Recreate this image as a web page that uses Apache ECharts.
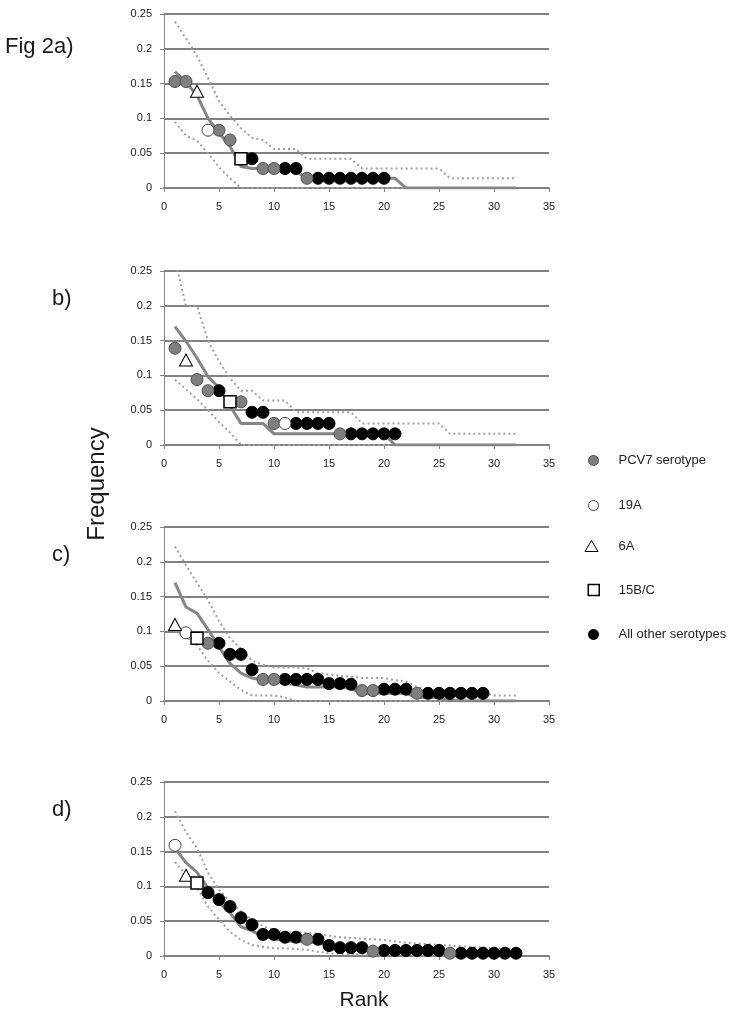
<!DOCTYPE html>
<html><head><meta charset="utf-8">
<script src="https://cdn.jsdelivr.net/npm/echarts@6/dist/echarts.min.js"></script>
<style>html,body{margin:0;padding:0;background:#fff}#c{width:742px;height:1020px}</style>
</head><body><div id="c"></div>
<script>
// ---- data ----
const ranks = [1,2,3,4,5,6,7,8,9,10,11,12,13,14,15,16,17,18,19,20,21,22,23,24,25,26,27,28,29,30,31,32];
const panelLabels = ['Fig 2a)', 'b)', 'c)', 'd)'];
const seriesNames = ['PCV7 serotype', '19A', '6A', '15B/C', 'All other serotypes'];

// Panel a
const aMean  = [0.167,0.152,0.133,0.100,0.079,0.060,0.031,0.028,0.028,0.028,0.028,0.024,0.014,0.014,0.014,0.014,0.014,0.014,0.014,0.014,0.014,0,0,0,0,0,0,0,0,0,0,0];
const aUpper = [0.239,0.215,0.190,0.158,0.125,0.104,0.086,0.072,0.069,0.056,0.056,0.056,0.042,0.042,0.042,0.042,0.042,0.028,0.028,0.028,0.028,0.028,0.028,0.028,0.028,0.014,0.014,0.014,0.014,0.014,0.014,0.014];
const aLower = [0.095,0.075,0.068,0.050,0.030,0.014,0,0,0,0,0,0,0,0,0,0,0,0,0,0,0,0,0,0,0,0,0,0,0,0,0,0];
const aPcv7  = [[1,0.153],[2,0.153],[5,0.083],[6,0.069],[9,0.028],[10,0.028],[13,0.014]];
const a19A   = [[4,0.083]];
const a6A    = [[3,0.139]];
const a15BC  = [[7,0.042]];
const aOther = [[8,0.042],[11,0.028],[12,0.028],[14,0.014],[15,0.014],[16,0.014],[17,0.014],[18,0.014],[19,0.014],[20,0.014]];

// Panel b
const bMean  = [0.170,0.149,0.125,0.098,0.082,0.056,0.031,0.031,0.031,0.016,0.016,0.016,0.016,0.016,0.016,0.016,0.016,0.016,0.016,0.016,0,0,0,0,0,0,0,0,0,0,0,0];
const bUpper = [0.266,0.200,0.200,0.150,0.120,0.096,0.078,0.078,0.064,0.064,0.064,0.047,0.047,0.047,0.047,0.047,0.047,0.031,0.031,0.031,0.031,0.031,0.031,0.031,0.031,0.016,0.016,0.016,0.016,0.016,0.016,0.016];
const bLower = [0.094,0.080,0.066,0.050,0.033,0.018,0,0,0,0,0,0,0,0,0,0,0,0,0,0,0,0,0,0,0,0,0,0,0,0,0,0];
const bPcv7  = [[1,0.139],[3,0.094],[4,0.078],[7,0.062],[10,0.031],[16,0.016]];
const b19A   = [[11,0.031]];
const b6A    = [[2,0.122]];
const b15BC  = [[6,0.062]];
const bOther = [[5,0.078],[8,0.047],[9,0.047],[12,0.031],[13,0.031],[14,0.031],[15,0.031],[17,0.016],[18,0.016],[19,0.016],[20,0.016],[21,0.016]];

// Panel c
const cMean  = [0.170,0.135,0.126,0.103,0.078,0.054,0.040,0.033,0.030,0.029,0.026,0.023,0.020,0.020,0.020,0.020,0.018,0.011,0.011,0.011,0.011,0.011,0.005,0.005,0.005,0.001,0,0,0,0,0,0];
const cUpper = [0.222,0.195,0.170,0.145,0.115,0.090,0.075,0.058,0.052,0.048,0.048,0.048,0.047,0.040,0.038,0.036,0.035,0.033,0.033,0.033,0.030,0.028,0.020,0.017,0.016,0.016,0.015,0.014,0.012,0.008,0.008,0.008];
const cLower = [0.100,0.093,0.080,0.058,0.040,0.028,0.016,0.008,0.008,0.008,0.005,0,0,0,0,0,0,0,0,0,0,0,0,0,0,0,0,0,0,0,0,0];
const cPcv7  = [[4,0.083],[9,0.031],[10,0.031],[18,0.015],[19,0.015],[23,0.011]];
const c19A   = [[2,0.098]];
const c6A    = [[1,0.110]];
const c15BC  = [[3,0.090]];
const cOther = [[5,0.083],[6,0.067],[7,0.067],[8,0.045],[11,0.031],[12,0.031],[13,0.031],[14,0.031],[15,0.025],[16,0.025],[17,0.024],[20,0.017],[21,0.017],[22,0.017],[24,0.011],[25,0.011],[26,0.011],[27,0.011],[28,0.011],[29,0.011]];

// Panel d
const dMean  = [0.155,0.134,0.120,0.098,0.077,0.062,0.042,0.036,0.028,0.025,0.022,0.021,0.020,0.019,0.016,0.014,0.012,0.011,0.010,0.009,0.008,0.008,0.007,0.007,0.006,0.006,0.005,0.005,0.004,0.004,0.003,0.003];
const dUpper = [0.208,0.178,0.155,0.120,0.095,0.078,0.064,0.052,0.043,0.037,0.034,0.034,0.033,0.032,0.029,0.027,0.026,0.025,0.024,0.023,0.021,0.019,0.018,0.017,0.016,0.015,0.014,0.013,0.012,0.011,0.011,0.010];
const dLower = [0.135,0.117,0.098,0.071,0.052,0.035,0.023,0.016,0.013,0.011,0.011,0.010,0.009,0.006,0.004,0.003,0.003,0.002,0.002,0.002,0.001,0.001,0.001,0.001,0,0,0,0,0,0,0,0];
const dPcv7  = [[13,0.024],[19,0.007],[26,0.004]];
const d19A   = [[1,0.159]];
const d6A    = [[2,0.116]];
const d15BC  = [[3,0.105]];
const dOther = [[4,0.091],[5,0.081],[6,0.071],[7,0.055],[8,0.045],[9,0.031],[10,0.031],[11,0.027],[12,0.027],[14,0.024],[15,0.015],[16,0.012],[17,0.012],[18,0.012],[20,0.008],[21,0.008],[22,0.008],[23,0.008],[24,0.008],[25,0.008],[27,0.004],[28,0.004],[29,0.004],[30,0.004],[31,0.004],[32,0.004]];

const panels = [
  {mean:aMean, upper:aUpper, lower:aLower, pcv7:aPcv7, s19A:a19A, s6A:a6A, s15BC:a15BC, other:aOther},
  {mean:bMean, upper:bUpper, lower:bLower, pcv7:bPcv7, s19A:b19A, s6A:b6A, s15BC:b15BC, other:bOther},
  {mean:cMean, upper:cUpper, lower:cLower, pcv7:cPcv7, s19A:c19A, s6A:c6A, s15BC:c15BC, other:cOther},
  {mean:dMean, upper:dUpper, lower:dLower, pcv7:dPcv7, s19A:d19A, s6A:d6A, s15BC:d15BC, other:dOther}
];

// ---- layout / style ----
const FONT = 'Liberation Sans, Arial, sans-serif';
const gridTops = [14, 271, 527, 782];
const gridLeft = 164, gridW = 385, gridH = 174;
const axisGray = '#828282';
const styles = {
  pcv7:  {symbol:'circle', size:12, item:{color:'#7f7f7f', borderColor:'#505050', borderWidth:1, opacity:1}},
  s19A:  {symbol:'circle', size:12, item:{color:'#ffffff', borderColor:'#444', borderWidth:1, opacity:1}},
  s6A:   {symbol:'triangle', size:[13,12], item:{color:'#ffffff', borderColor:'#000', borderWidth:1, opacity:1}},
  s15BC: {symbol:'rect', size:12, item:{color:'#ffffff', borderColor:'#000', borderWidth:1.5, opacity:1}},
  other: {symbol:'circle', size:12, item:{color:'#000000', borderColor:'#000', borderWidth:1, opacity:1}}
};

const grid = [], xAxis = [], yAxis = [], series = [];
panels.forEach((p, i) => {
  grid.push({left:gridLeft, top:gridTops[i], width:gridW, height:gridH, containLabel:false});
  xAxis.push({
    type:'value', gridIndex:i, min:0, max:35, interval:5,
    axisLine:{show:true, onZero:false, lineStyle:{color:axisGray, width:2}},
    axisTick:{show:true, length:4, lineStyle:{color:axisGray, width:1}},
    axisLabel:{fontFamily:FONT, fontSize:11, color:'#1a1a1a', margin:13},
    splitLine:{show:false}
  });
  yAxis.push({
    type:'value', gridIndex:i, min:0, max:0.25, interval:0.05,
    axisLine:{show:true, lineStyle:{color:axisGray, width:1}},
    axisTick:{show:true, length:4, lineStyle:{color:axisGray, width:1}},
    axisLabel:{fontFamily:FONT, fontSize:11, color:'#1a1a1a', margin:12},
    splitLine:{show:true, lineStyle:{color:axisGray, width:2}}
  });
  const lineData = arr => ranks.map((r, k) => [r, arr[k]]);
  series.push({type:'line', xAxisIndex:i, yAxisIndex:i, data:lineData(p.upper), showSymbol:false, silent:true, clip:true,
    lineStyle:{color:'#a0a0a0', width:2, type:[2,3]}, z:2});
  series.push({type:'line', xAxisIndex:i, yAxisIndex:i, data:lineData(p.lower), showSymbol:false, silent:true, clip:true,
    lineStyle:{color:'#a0a0a0', width:2, type:[2,3]}, z:2});
  series.push({type:'line', xAxisIndex:i, yAxisIndex:i, data:lineData(p.mean), showSymbol:false, silent:true, clip:true,
    lineStyle:{color:'#858585', width:3}, z:2});
  [['other','All other serotypes'],['pcv7','PCV7 serotype'],['s19A','19A'],['s6A','6A'],['s15BC','15B/C']].forEach(([key, name]) => {
    const st = styles[key];
    series.push({type:'scatter', name, xAxisIndex:i, yAxisIndex:i, data:p[key], symbol:st.symbol, symbolSize:st.size,
      itemStyle:st.item, z:3});
  });
});

// legend entries, one component per item for exact placement
const legendSpec = [
  {key:'pcv7',  name:'PCV7 serotype',       cx:593, cy:459, w:10, h:10, icon:'circle'},
  {key:'s19A',  name:'19A',                 cx:593, cy:504, w:10, h:10, icon:'circle'},
  {key:'s6A',   name:'6A',                  cx:591, cy:545, w:13, h:11, icon:'triangle'},
  {key:'s15BC', name:'15B/C',               cx:593, cy:589, w:11, h:11, icon:'rect'},
  {key:'other', name:'All other serotypes', cx:593, cy:633, w:10, h:10, icon:'circle'}
];
const legend = legendSpec.map(l => ({
  show:true, orient:'vertical', padding:0, selectedMode:false,
  left:l.cx - l.w/2, top:l.cy - l.h/2, itemWidth:l.w, itemHeight:l.h,
  data:[{name:l.name, icon:l.icon, itemStyle:styles[l.key].item}],
  textStyle:{fontFamily:FONT, fontSize:13, color:'#222', padding:[0,0,0, 618 - (l.cx + l.w/2 + 5)]}
}));

const labelPos = [[5,48],[52,300],[52,556],[52,811]];
const graphic = panelLabels.map((t, i) => ({
  type:'text', left:labelPos[i][0], top:labelPos[i][1] - 12,
  style:{text:t, font:'22px ' + FONT, fill:'#1a1a1a'}
}));
graphic.push({type:'text', x:97, y:484, rotation:Math.PI/2,
  style:{text:'Frequency', font:'24px ' + FONT, fill:'#1a1a1a', align:'center', verticalAlign:'middle'}});
graphic.push({type:'text', x:364, y:1000,
  style:{text:'Rank', font:'21px ' + FONT, fill:'#1a1a1a', align:'center', verticalAlign:'middle'}});

const chart = echarts.init(document.getElementById('c'), null, {renderer:'canvas'});
chart.setOption({
  animation:false,
  backgroundColor:'#ffffff',
  grid, xAxis, yAxis, series, legend, graphic
});
</script>
</body></html>
